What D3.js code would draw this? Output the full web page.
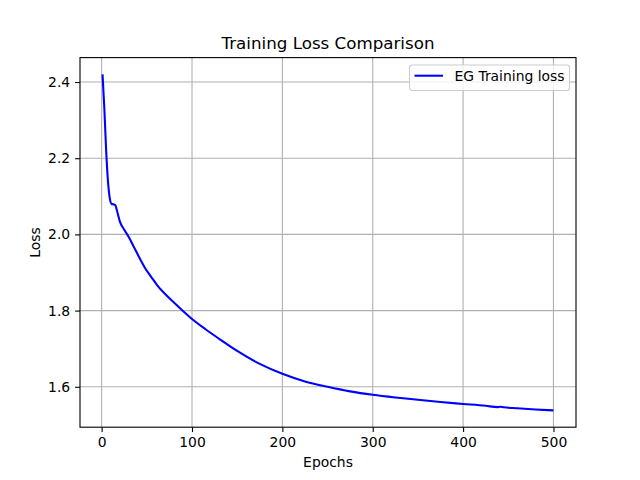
<!DOCTYPE html>
<html>
<head>
<meta charset="utf-8">
<script src="https://cdn.jsdelivr.net/npm/d3@7"></script>
<style>
  body { margin: 0; background: #fff; }
  text { font-family: "DejaVu Sans", sans-serif; fill: #000; }
</style>
</head>
<body>
<script>
// values
var epochs = [1, 3, 5, 7, 9, 11, 13, 15, 17, 20, 25, 30, 35, 42, 48, 55, 62, 70, 80, 90,
              100, 115, 130, 150, 175, 200, 225, 250, 275, 300, 325, 350, 375, 400, 425,
              438, 441, 445, 460, 480, 500];
var loss = [2.42, 2.33, 2.22, 2.14, 2.095, 2.08, 2.079, 2.077, 2.062, 2.035, 2.012, 1.993,
            1.970, 1.938, 1.912, 1.888, 1.865, 1.844, 1.821, 1.799, 1.778, 1.751, 1.726,
            1.694, 1.660, 1.634, 1.614, 1.600, 1.588, 1.579, 1.572, 1.566, 1.560, 1.555,
            1.550, 1.5465, 1.5475, 1.5462, 1.5435, 1.5405, 1.538];
var xTicks = [0, 100, 200, 300, 400, 500];
var yTicks = [1.6, 1.8, 2.0, 2.2, 2.4];
var seriesName = "EG Training loss";

var width = 640,
    height = 480;
var margin = {top: 57.6, right: 64, bottom: 52.8, left: 80};

var svg = d3.select("body").append("svg")
    .attr("width", width)
    .attr("height", height);

var data = epochs.map((e, i) => ({x: e, y: loss[i]}));

// matplotlib style 5% padding around the data
var xExt = d3.extent(epochs), xPad = (xExt[1] - xExt[0]) * 0.05;
var yExt = d3.extent(loss), yPad = (yExt[1] - yExt[0]) * 0.05;

var x = d3.scaleLinear()
    .domain([xExt[0] - xPad, xExt[1] + xPad])
    .range([margin.left, width - margin.right]);
var y = d3.scaleLinear()
    .domain([yExt[0] - yPad, yExt[1] + yPad])
    .range([height - margin.bottom, margin.top]);

var plotW = width - margin.left - margin.right,
    plotH = height - margin.top - margin.bottom;

// grid
svg.append("g")
  .selectAll("line.gx")
  .data(xTicks)
  .enter().append("line")
    .attr("x1", d => x(d)).attr("x2", d => x(d))
    .attr("y1", margin.top).attr("y2", height - margin.bottom)
    .attr("stroke", "#b0b0b0").attr("stroke-width", 1.1);
svg.append("g")
  .selectAll("line.gy")
  .data(yTicks)
  .enter().append("line")
    .attr("y1", d => y(d)).attr("y2", d => y(d))
    .attr("x1", margin.left).attr("x2", width - margin.right)
    .attr("stroke", "#b0b0b0").attr("stroke-width", 1.1);

// the loss curve
var line = d3.line()
    .x(d => x(d.x))
    .y(d => y(d.y))
    .curve(d3.curveMonotoneX);

svg.append("path")
    .datum(data)
    .attr("fill", "none")
    .attr("stroke", "#0000ff")
    .attr("stroke-width", 2.08)
    .attr("stroke-linejoin", "round")
    .attr("d", line);

// axes
var xAxis = svg.append("g")
    .attr("transform", `translate(0,${height - margin.bottom})`)
    .call(d3.axisBottom(x).tickValues(xTicks).tickSize(4.9).tickPadding(4.9).tickFormat(d3.format("d")));
var yAxis = svg.append("g")
    .attr("transform", `translate(${margin.left},0)`)
    .call(d3.axisLeft(y).tickValues(yTicks).tickSize(4.9).tickPadding(4.9).tickFormat(d3.format(".1f")));

[xAxis, yAxis].forEach(function(g) {
  g.select(".domain").remove();
  g.selectAll(".tick line").attr("stroke", "#000").attr("stroke-width", 1.1);
  g.selectAll(".tick text").attr("font-size", 13.9).attr("font-family", "DejaVu Sans");
});

// frame
svg.append("rect")
    .attr("x", margin.left).attr("y", margin.top)
    .attr("width", plotW).attr("height", plotH)
    .attr("fill", "none").attr("stroke", "#000").attr("stroke-width", 1.1);

// title and labels
svg.append("text")
    .attr("x", margin.left + plotW / 2)
    .attr("y", margin.top - 8.3)
    .attr("text-anchor", "middle")
    .attr("font-size", 16.7)
    .text("Training Loss Comparison");

svg.append("text")
    .attr("x", margin.left + plotW / 2)
    .attr("y", 467)
    .attr("text-anchor", "middle")
    .attr("font-size", 13.9)
    .text("Epochs");

svg.append("text")
    .attr("transform", `translate(40,${margin.top + plotH / 2}) rotate(-90)`)
    .attr("text-anchor", "middle")
    .attr("font-size", 13.9)
    .text("Loss");

// legend, upper right
var legend = svg.append("g")
    .attr("transform", `translate(409.5,65)`);
legend.append("rect")
    .attr("width", 160).attr("height", 25.5)
    .attr("rx", 2.8)
    .attr("fill", "#fff").attr("fill-opacity", 0.8)
    .attr("stroke", "#cccccc").attr("stroke-width", 1.1);
legend.append("line")
    .attr("x1", 5).attr("x2", 33.5)
    .attr("y1", 10.7).attr("y2", 10.7)
    .attr("stroke", "#0000ff").attr("stroke-width", 2.08);
legend.append("text")
    .attr("x", 45).attr("y", 15.6)
    .attr("font-size", 13.9)
    .text(seriesName);
</script>
</body>
</html>
